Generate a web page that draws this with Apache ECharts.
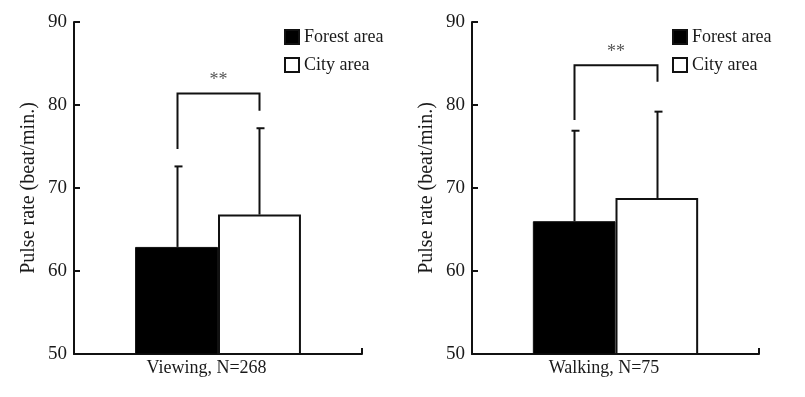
<!DOCTYPE html>
<html>
<head>
<meta charset="utf-8">
<script src="https://cdn.jsdelivr.net/npm/echarts@6/dist/echarts.min.js"></script>
<style>
  html, body { margin: 0; padding: 0; background: #fff; }
  #chart { width: 805px; height: 397px; }
</style>
</head>
<body>
<div id="chart"></div>
<script>
// Data
var panels = ['Viewing, N=268', 'Walking, N=75'];
var forestMean = [62.9, 66.0];
var forestSD = [9.7, 10.9];
var cityMean = [66.8, 68.8];
var citySD = [10.4, 10.4];
// significance brackets: left leg end, top, right leg end
var bracketLeft = [74.7, 78.2];
var bracketTop = [81.4, 84.8];
var bracketRight = [79.3, 82.8];
var yTicks = [50, 60, 70, 80, 90];

var font = 'Liberation Serif';
var barPct = 0.288;

var chartDom = document.getElementById('chart');
var chart = echarts.init(chartDom);

function errorBars(offsetSign) {
  return function (params, api) {
    var p = api.coord([api.value(0), api.value(1)]);
    var top = api.coord([api.value(0), api.value(1) + api.value(2)]);
    var bw = api.size([1, 0])[0] * barPct;
    var x = Math.round(p[0] + offsetSign * bw / 2) + 0.5;
    return {
      type: 'group',
      children: [
        { type: 'line', shape: { x1: x, y1: p[1], x2: x, y2: top[1] },
          style: { stroke: '#111', lineWidth: 2 } },
        { type: 'line', shape: { x1: x - 3, y1: top[1], x2: x + 5, y2: top[1] },
          style: { stroke: '#111', lineWidth: 2 } }
      ]
    };
  };
}

function bracket(params, api) {
  var c = api.coord([api.value(0), api.value(2)]);
  var bw = api.size([1, 0])[0] * barPct;
  var xl = Math.round(c[0] - bw / 2) + 0.5;
  var xr = Math.round(c[0] + bw / 2) + 0.5;
  var yl = api.coord([api.value(0), api.value(1)])[1];
  var yt = api.coord([api.value(0), api.value(2)])[1];
  var yr = api.coord([api.value(0), api.value(3)])[1];
  return {
    type: 'group',
    children: [
      { type: 'polyline', shape: { points: [[xl, yl], [xl, yt], [xr, yt], [xr, yr]] },
        style: { stroke: '#111', lineWidth: 2, fill: 'none' } },
      { type: 'text', x: (xl + xr) / 2, y: yt - 13,
        style: { text: '**', fill: '#555', font: '18px ' + font, align: 'center', verticalAlign: 'middle' } }
    ]
  };
}

var grids = [
  { left: 74, top: 22, width: 288, height: 332 },
  { left: 472, top: 22, width: 287, height: 332 }
];

var xAxes = [], yAxes = [], series = [];
panels.forEach(function (name, i) {
  xAxes.push({
    type: 'category', gridIndex: i, data: [name],
    axisLine: { lineStyle: { color: '#111', width: 2 } },
    axisTick: { show: true, inside: true, length: 6, lineStyle: { color: '#111', width: 2 } },
    axisLabel: { color: '#1a1a1a', fontFamily: font, fontSize: 18, margin: 5, padding: [0, 23, 0, 0] }
  });
  yAxes.push({
    type: 'value', gridIndex: i, min: 50, max: 90, interval: 10,
    name: 'Pulse rate (beat/min.)', nameLocation: 'middle', nameGap: 35,
    nameTextStyle: { color: '#1a1a1a', fontFamily: font, fontSize: 20 },
    axisLine: { show: true, lineStyle: { color: '#111', width: 2 } },
    axisTick: { show: true, inside: true, length: 6, lineStyle: { color: '#111', width: 2 } },
    axisLabel: { color: '#1a1a1a', fontFamily: font, fontSize: 19, margin: 7,
      formatter: function (v) { return yTicks.indexOf(v) >= 0 ? String(v) : ''; } },
    splitLine: { show: false }
  });
  series.push({
    name: 'Forest area', type: 'bar', xAxisIndex: i, yAxisIndex: i,
    data: [forestMean[i]], barWidth: (barPct * 100) + '%', barGap: '0%',
    itemStyle: { color: '#000', borderColor: '#111', borderWidth: 1 }
  });
  series.push({
    name: 'City area', type: 'bar', xAxisIndex: i, yAxisIndex: i,
    data: [cityMean[i]], barWidth: (barPct * 100) + '%', barGap: '0%',
    itemStyle: { color: '#fff', borderColor: '#111', borderWidth: 2 }
  });
  series.push({
    type: 'custom', xAxisIndex: i, yAxisIndex: i, z: 5,
    renderItem: errorBars(-1), data: [[0, forestMean[i], forestSD[i]]]
  });
  series.push({
    type: 'custom', xAxisIndex: i, yAxisIndex: i, z: 5,
    renderItem: errorBars(1), data: [[0, cityMean[i], citySD[i]]]
  });
  series.push({
    type: 'custom', xAxisIndex: i, yAxisIndex: i, z: 5,
    renderItem: bracket, data: [[0, bracketLeft[i], bracketTop[i], bracketRight[i]]]
  });
});

var legendBase = {
  orient: 'vertical', itemWidth: 14, itemHeight: 14, itemGap: 8, itemTextGap: 6,
  icon: 'rect', selectedMode: false, padding: 0,
  textStyle: { color: '#1a1a1a', fontFamily: font, fontSize: 18, lineHeight: 20 },
  data: ['Forest area', 'City area']
};

var option = {
  backgroundColor: '#fff',
  animation: false,
  grid: grids,
  xAxis: xAxes,
  yAxis: yAxes,
  legend: [
    Object.assign({ left: 284, top: 27 }, legendBase),
    Object.assign({ left: 672, top: 27 }, legendBase)
  ],
  series: series
};

option && chart.setOption(option);
</script>
</body>
</html>
